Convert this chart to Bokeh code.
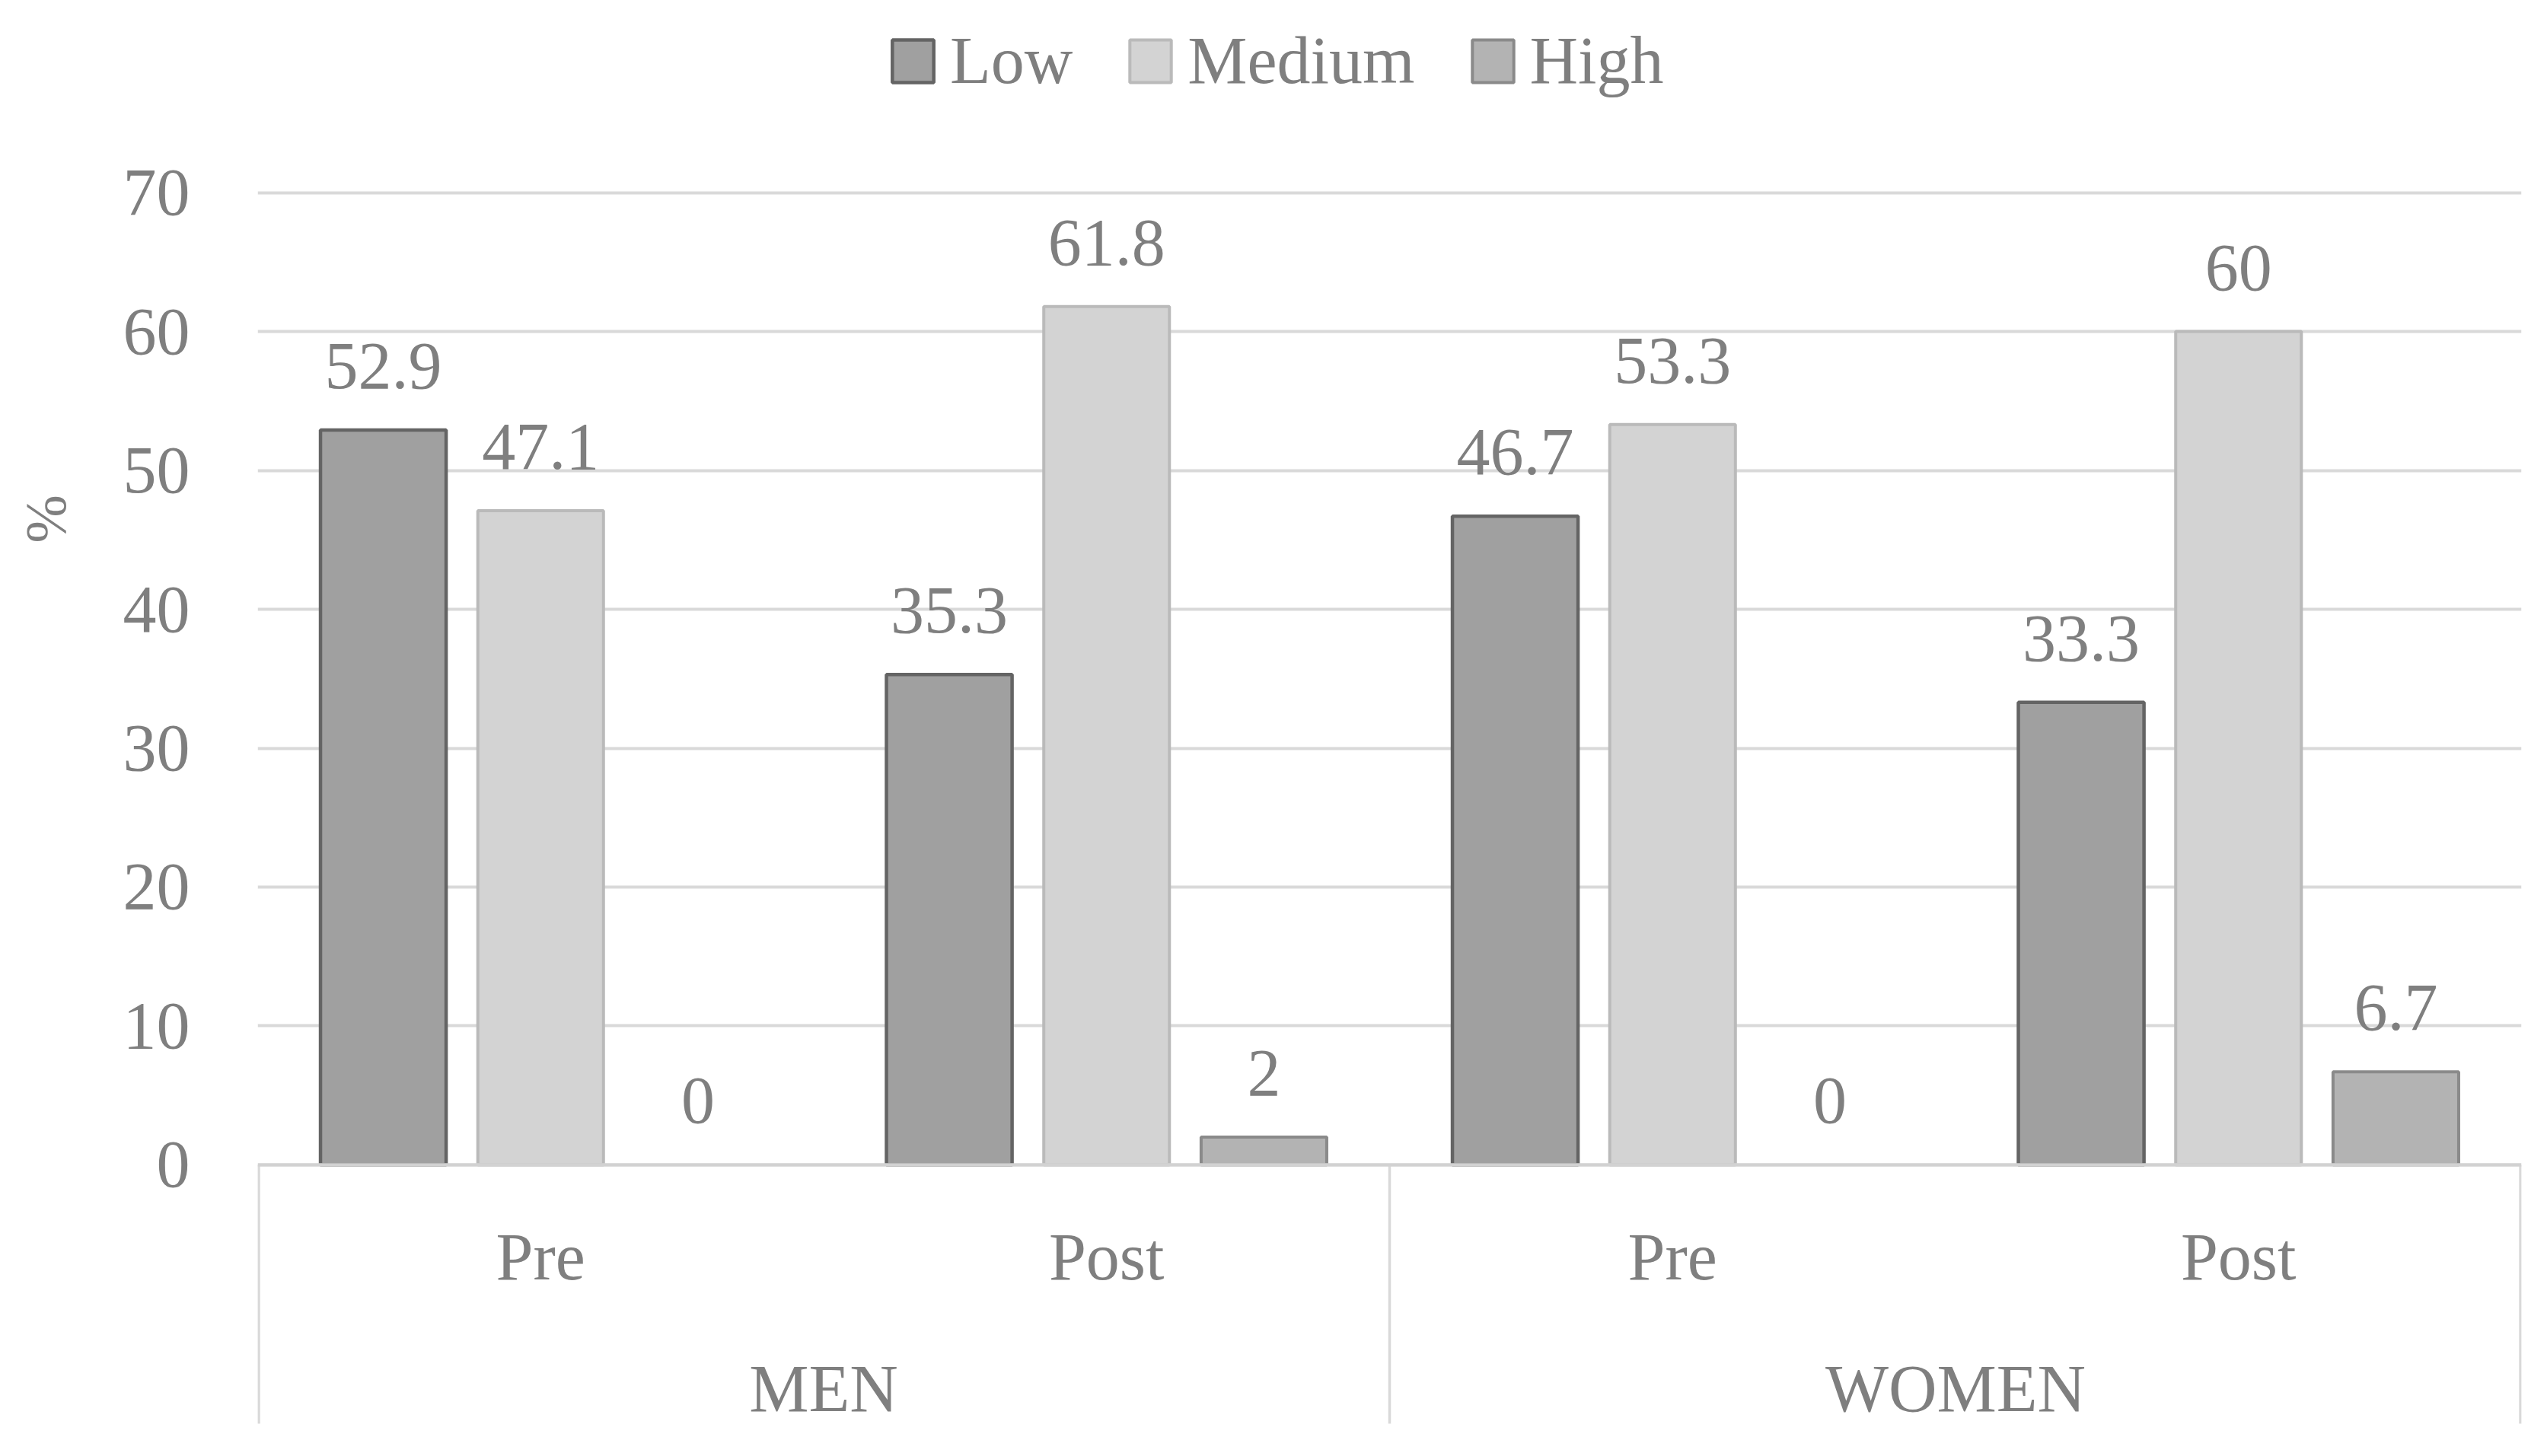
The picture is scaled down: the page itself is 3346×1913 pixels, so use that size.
from bokeh.plotting import figure
from bokeh.models import (ColumnDataSource, FactorRange, FixedTicker, Legend, LegendItem,
                          LinearAxis, Span, CustomJSTickFormatter)
from bokeh.transform import dodge
from bokeh.core.properties import value
from bokeh.embed import file_html
from bokeh.resources import INLINE

# ---------------- data ----------------
groups = ["MEN", "WOMEN"]
times = ["Pre", "Post"]
levels = ["Low", "Medium", "High"]
low = [52.9, 35.3, 46.7, 33.3]
medium = [47.1, 61.8, 53.3, 60]
high = [0, 2, 0, 6.7]
y_ticks = [0, 10, 20, 30, 40, 50, 60, 70]
y_title = "%"

# ---------------- style ----------------
FONT = "Liberation Serif"
TXT = "#7f7f7f"
FS = "88px"
fills = {"Low": "#a0a0a0", "Medium": "#d3d3d3", "High": "#b3b3b3"}
lines = {"Low": "#646464", "Medium": "#bababa", "High": "#8a8a8a"}
lwidth = {"Low": 4.5, "Medium": 4, "High": 4}
offsets = {"Low": -0.278, "Medium": 0.0, "High": 0.278}
BAR_W = 0.222
Y_START, Y_END = -19.73, 83.84
SEP_BOTTOM = -18.63
SUB_Y = -6.63
GRP_Y = -16.11

factors = [(g, t) for g in groups for t in times]

x_range = FactorRange(factors=factors, range_padding=0, group_padding=0, subgroup_padding=0)
p = figure(width=3330, height=1890, x_range=x_range, y_range=(Y_START, Y_END), title=None,
           output_backend="svg", toolbar_location=None, x_axis_location=None,
           min_border_left=338, min_border_right=18, min_border_top=0, min_border_bottom=0)
p.outline_line_color = None
p.background_fill_color = "white"
p.border_fill_color = "white"

# y axis
p.yaxis.ticker = FixedTicker(ticks=y_ticks)
p.yaxis.axis_line_color = None
p.yaxis.major_tick_line_color = None
p.yaxis.minor_tick_line_color = None
p.yaxis.major_tick_out = 0
p.yaxis.major_tick_in = 0
p.yaxis.major_label_standoff = 89
p.yaxis.major_label_text_font = FONT
p.yaxis.major_label_text_font_size = FS
p.yaxis.major_label_text_color = TXT

# y title as a single-tick outer axis so it sits at the right height
title_axis = LinearAxis(ticker=FixedTicker(ticks=[46.5]),
                        formatter=CustomJSTickFormatter(code="return '%s';" % y_title),
                        major_label_orientation="vertical",
                        axis_line_color=None, major_tick_line_color=None, minor_tick_line_color=None,
                        major_tick_in=0, major_tick_out=0, major_label_standoff=56,
                        major_label_text_font=FONT, major_label_text_font_size="76px",
                        major_label_text_color=TXT)
p.add_layout(title_axis, "left")

p.xgrid.visible = False
p.ygrid.ticker = FixedTicker(ticks=y_ticks[1:])
p.ygrid.grid_line_color = "#d9d9d9"
p.ygrid.grid_line_width = 4

p.add_layout(Span(location=0, dimension="width", line_color="#d2d2d2", line_width=4.5))

# bars + value labels
series = {"Low": low, "Medium": medium, "High": high}
renderers = {}
legend_index = {}
for lev in levels:
    vals = series[lev]
    src = ColumnDataSource(dict(
        x=factors,
        top=vals,
        label=[f"{v:g}" for v in vals],
        la=[0.0 if v == 0 else 1.0 for v in vals],
    ))
    r = p.vbar(x=dodge("x", offsets[lev], range=p.x_range), top="top", width=BAR_W,
               source=src, fill_color=fills[lev], line_color=lines[lev],
               line_width=lwidth[lev], line_alpha="la")
    renderers[lev] = r
    legend_index[lev] = next(i for i, v in enumerate(vals) if v != 0)
    p.text(x=dodge("x", offsets[lev], range=p.x_range), y="top", text="label", source=src,
           text_font=value(FONT), text_font_size=FS, text_color=TXT,
           text_align="center", text_baseline="middle", y_offset=-84)

# category axis (two levels) drawn below zero
sub_src = ColumnDataSource(dict(x=factors, y=[SUB_Y] * len(factors), t=[f[1] for f in factors]))
p.text(x="x", y="y", text="t", source=sub_src, text_font=value(FONT), text_font_size=FS,
       text_color=TXT, text_align="center", text_baseline="middle")
grp_src = ColumnDataSource(dict(x=groups, y=[GRP_Y] * len(groups), t=groups))
p.text(x="x", y="y", text="t", source=grp_src, text_font=value(FONT), text_font_size=FS,
       text_color=TXT, text_align="center", text_baseline="middle")

n_sub = len(times)
sep_x = [float(i * n_sub) for i in range(len(groups) + 1)]
sep_x[0] += 0.002
sep_x[-1] -= 0.002
sep_src = ColumnDataSource(dict(x0=sep_x, x1=sep_x, y0=[0] * len(sep_x), y1=[SEP_BOTTOM] * len(sep_x)))
p.segment(x0="x0", y0="y0", x1="x1", y1="y1", source=sep_src, line_color="#d9d9d9", line_width=3.5)

# legend (inside the tall frame, above the 70 line)
items = [LegendItem(label=lev, renderers=[renderers[lev]], index=legend_index[lev]) for lev in levels]
legend = Legend(items=items, orientation="horizontal", location=(827, 1760),
                glyph_width=68, glyph_height=70, label_standoff=15, spacing=68,
                padding=0, margin=0, border_line_color=None, background_fill_alpha=0,
                label_text_font=FONT, label_text_font_size=FS, label_text_color=TXT)
p.add_layout(legend, "center")

open("out.html", "w").write(file_html(p, INLINE))
